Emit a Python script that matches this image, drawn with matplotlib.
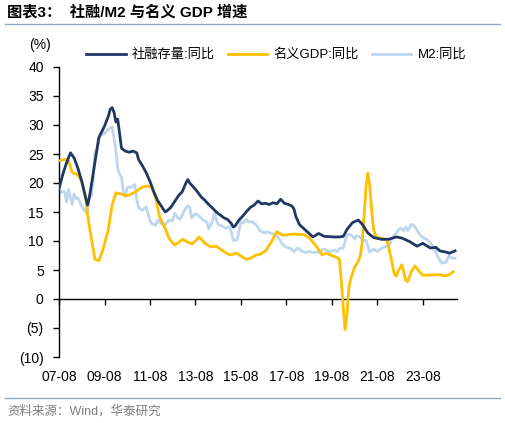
import pandas as pd
import matplotlib.pyplot as plt
import matplotlib.dates as mdates
from matplotlib.lines import Line2D

plt.rcParams['font.family'] = ['Liberation Sans', 'Noto Sans CJK SC', 'DejaVu Sans']
plt.rcParams['axes.unicode_minus'] = False

# --- data ---
tsf_dates = ['2007-08', '2007-10', '2007-12', '2008-02', '2008-04', '2008-06', '2008-08', '2008-10',
             '2008-11', '2008-12', '2009-02', '2009-05', '2009-08', '2009-10', '2009-11', '2009-12',
             '2010-01', '2010-02', '2010-03', '2010-04', '2010-05', '2010-07', '2010-09', '2010-11',
             '2011-01', '2011-02', '2011-04', '2011-06', '2011-08', '2011-10', '2011-12', '2012-02',
             '2012-04', '2012-05', '2012-07', '2012-09', '2012-11', '2013-01', '2013-03', '2013-04',
             '2013-05', '2013-07', '2013-09', '2013-11', '2014-01', '2014-03', '2014-05', '2014-07',
             '2014-09', '2014-11', '2015-01', '2015-03', '2015-04', '2015-05', '2015-07', '2015-09',
             '2015-11', '2016-01', '2016-03', '2016-05', '2016-07', '2016-09', '2016-11', '2017-01',
             '2017-03', '2017-05', '2017-07', '2017-09', '2017-11', '2017-12', '2018-01', '2018-03',
             '2018-06', '2018-10', '2019-01', '2019-04', '2019-09', '2019-12', '2020-02', '2020-04',
             '2020-07', '2020-10', '2020-12', '2021-03', '2021-06', '2021-10', '2022-02', '2022-06',
             '2022-09', '2023-01', '2023-04', '2023-05', '2023-08', '2023-12', '2024-03', '2024-05',
             '2024-08', '2024-10', '2025-01']
tsf_yoy = [19.0, 21.5, 23.5, 25.2, 24.3, 22.5, 20.3, 17.5,
           16.2, 17.5, 21.7, 27.8, 29.8, 31.5, 32.7, 33.0,
           32.2, 30.5, 31.0, 28.5, 26.0, 25.5, 25.3, 25.5,
           25.2, 24.0, 23.0, 21.8, 20.3, 18.5, 17.0, 16.0,
           15.0, 15.2, 15.8, 16.8, 17.8, 18.5, 20.0, 20.6,
           20.0, 19.3, 18.5, 17.6, 17.0, 16.3, 15.7, 15.0,
           14.5, 14.0, 13.7, 13.0, 12.4, 12.6, 13.6, 14.3,
           15.1, 15.8, 16.2, 16.9, 16.4, 16.5, 16.3, 16.6,
           16.4, 17.2, 16.5, 16.3, 16.0, 15.5, 14.2, 12.8,
           11.9, 10.7, 11.3, 10.8, 10.7, 10.7, 10.8, 12.0,
           13.2, 13.6, 12.9, 11.4, 10.6, 10.3, 10.3, 10.7,
           10.5, 9.9, 9.3, 9.1, 9.6, 8.8, 8.9, 8.3,
           8.1, 7.9, 8.3]

gdp_dates = ['2007-08', '2007-11', '2008-01', '2008-03', '2008-06', '2008-08', '2008-10', '2008-11',
             '2009-01', '2009-03', '2009-05', '2009-07', '2009-10', '2009-12', '2010-02', '2010-05',
             '2010-08', '2010-12', '2011-04', '2011-07', '2011-09', '2011-11', '2012-01', '2012-04',
             '2012-06', '2012-09', '2012-11', '2013-01', '2013-04', '2013-06', '2013-08', '2013-10',
             '2014-01', '2014-04', '2014-07', '2014-10', '2015-02', '2015-06', '2015-08', '2015-11',
             '2016-02', '2016-04', '2016-06', '2016-09', '2016-12', '2017-03', '2017-06', '2017-12',
             '2018-05', '2018-08', '2018-10', '2018-12', '2019-03', '2019-05', '2019-08', '2019-11',
             '2019-12', '2020-01', '2020-02', '2020-03', '2020-04', '2020-05', '2020-06', '2020-07',
             '2020-08', '2020-09', '2020-10', '2020-11', '2020-12', '2021-01', '2021-02', '2021-03',
             '2021-04', '2021-05', '2021-06', '2021-07', '2021-08', '2021-11', '2022-01', '2022-03',
             '2022-05', '2022-06', '2022-07', '2022-09', '2022-10', '2022-11', '2022-12', '2023-02',
             '2023-04', '2023-06', '2023-08', '2023-11', '2024-04', '2024-08', '2024-10', '2024-12']
gdp_yoy = [23.8, 24.1, 23.8, 21.8, 21.4, 20.2, 17.6, 14.5,
           10.5, 6.8, 6.6, 8.3, 12.0, 16.2, 18.3, 18.1,
           17.8, 18.4, 19.3, 19.5, 19.2, 17.5, 14.2, 12.2,
           10.5, 9.3, 9.7, 10.3, 9.8, 9.5, 10.0, 10.7,
           9.6, 9.0, 9.1, 8.4, 7.6, 7.9, 7.4, 6.8,
           7.2, 7.6, 7.7, 8.3, 9.8, 11.6, 11.0, 11.2,
           11.1, 10.6, 9.8, 9.0, 7.6, 7.9, 7.5, 7.1,
           6.8, 3.0, -1.5, -5.3, -2.5, 2.0, 3.5, 4.5,
           5.5, 6.0, 6.6, 7.5, 9.7, 14.5, 19.5, 21.7,
           19.5, 15.5, 12.0, 11.0, 10.6, 10.4, 10.2, 7.5,
           4.3, 3.9, 4.8, 5.9, 4.5, 3.2, 3.0, 4.8,
           5.7, 4.8, 4.1, 4.1, 4.2, 4.0, 4.2, 4.7]

m2_dates = ['2007-08', '2007-09', '2007-11', '2007-12', '2008-01', '2008-02', '2008-03', '2008-04',
            '2008-05', '2008-06', '2008-08', '2008-10', '2008-11', '2008-12', '2009-01', '2009-02',
            '2009-03', '2009-04', '2009-06', '2009-07', '2009-08', '2009-10', '2009-12', '2010-01',
            '2010-02', '2010-03', '2010-04', '2010-05', '2010-06', '2010-07', '2010-08', '2010-10',
            '2010-12', '2011-01', '2011-02', '2011-04', '2011-06', '2011-08', '2011-09', '2011-11',
            '2011-12', '2012-02', '2012-04', '2012-06', '2012-08', '2012-09', '2012-11', '2012-12',
            '2013-02', '2013-04', '2013-05', '2013-06', '2013-08', '2013-10', '2013-12', '2014-02',
            '2014-03', '2014-05', '2014-06', '2014-08', '2014-10', '2014-12', '2015-02', '2015-03',
            '2015-04', '2015-06', '2015-08', '2015-09', '2015-11', '2015-12', '2016-02', '2016-04',
            '2016-06', '2016-08', '2016-10', '2016-12', '2017-02', '2017-04', '2017-06', '2017-08',
            '2017-10', '2017-12', '2018-02', '2018-04', '2018-06', '2018-08', '2018-10', '2018-12',
            '2019-02', '2019-03', '2019-05', '2019-07', '2019-09', '2019-11', '2019-12', '2020-02',
            '2020-04', '2020-06', '2020-08', '2020-09', '2020-11', '2020-12', '2021-02', '2021-04',
            '2021-06', '2021-08', '2021-10', '2021-12', '2022-02', '2022-04', '2022-06', '2022-08',
            '2022-10', '2022-11', '2022-12', '2023-02', '2023-04', '2023-06', '2023-08', '2023-10',
            '2023-12', '2024-02', '2024-04', '2024-06', '2024-08', '2024-10', '2024-11', '2025-01']
m2_yoy = [18.1, 18.5, 18.5, 16.7, 18.9, 17.5, 16.3, 18.1,
          17.3, 17.4, 16.0, 15.0, 14.8, 17.8, 17.8, 20.5,
          25.5, 25.7, 28.5, 28.4, 28.5, 29.3, 29.7, 27.7,
          25.5, 22.5, 21.5, 21.0, 18.5, 17.6, 19.2, 19.3,
          19.7, 17.2, 15.7, 15.3, 15.9, 13.5, 13.0, 12.7,
          13.6, 13.0, 12.8, 13.6, 13.5, 14.8, 13.9, 13.8,
          15.2, 16.1, 15.8, 14.0, 14.7, 14.3, 13.6, 13.3,
          12.1, 13.4, 14.7, 12.8, 12.6, 12.2, 12.5, 11.6,
          10.1, 10.2, 13.3, 13.1, 13.7, 13.3, 13.3, 12.8,
          11.8, 11.4, 11.6, 11.3, 11.1, 10.5, 9.4, 8.9,
          8.8, 8.2, 8.8, 8.3, 8.0, 8.2, 8.0, 8.1,
          8.0, 8.6, 8.5, 8.1, 8.4, 8.2, 8.7, 8.8,
          11.1, 11.1, 10.4, 10.9, 10.7, 10.1, 10.1, 8.1,
          8.6, 8.2, 8.7, 9.0, 9.2, 10.5, 11.4, 12.2,
          11.8, 12.4, 11.8, 12.9, 12.4, 11.3, 10.6, 10.3,
          9.7, 8.7, 7.2, 6.2, 6.3, 7.5, 7.1, 7.0]

series_names = ['社融存量:同比', '名义GDP:同比', 'M2:同比']
series_colors = ['#203864', '#FFC000', '#BDD7EE']
x_tick_dates = ['2007-08', '2009-08', '2011-08', '2013-08', '2015-08',
                '2017-08', '2019-08', '2021-08', '2023-08']
y_ticks = [40, 35, 30, 25, 20, 15, 10, 5, 0, -5, -10]

W, H = 506, 423
fig = plt.figure(figsize=(W / 100, H / 100), dpi=100)
ax = fig.add_axes([59 / W, 1 - 357 / H, (457 - 59) / W, (357 - 67) / H])

ax.plot(pd.to_datetime(m2_dates), m2_yoy, color=series_colors[2], lw=2.0, label=series_names[2], zorder=2)
ax.plot(pd.to_datetime(gdp_dates), gdp_yoy, color=series_colors[1], lw=2.0, label=series_names[1], zorder=3)
ax.plot(pd.to_datetime(tsf_dates), tsf_yoy, color=series_colors[0], lw=2.0, label=series_names[0], zorder=4)

ax.set_xlim(pd.Timestamp('2007-08-01'), pd.Timestamp('2025-02-01'))
ax.set_ylim(-10, 40)
ax.set_xticks(pd.to_datetime(x_tick_dates))
ax.xaxis.set_major_formatter(mdates.DateFormatter('%y-%m'))
ax.set_yticks(y_ticks)
ax.set_yticklabels([f'({-v})' if v < 0 else str(v) for v in y_ticks])

for s in ['top', 'right']:
    ax.spines[s].set_visible(False)
ax.spines['bottom'].set_position(('data', 0))
ax.spines['left'].set_linewidth(1.0)
ax.spines['bottom'].set_linewidth(1.0)
ax.tick_params(axis='x', direction='out', length=4, width=1, pad=47, labelsize=10)
ax.tick_params(axis='y', direction='out', length=4, width=1, pad=7, labelsize=10)

# legend order as in the original
handles, labels = ax.get_legend_handles_labels()
order = [2, 1, 0]
fig.legend([handles[i] for i in order], [labels[i] for i in order],
           loc='center', bbox_to_anchor=(276 / W, 1 - 55 / H), ncol=3, frameon=False,
           fontsize=9.5, handlelength=3.0, handletextpad=0.45, columnspacing=1.0)

fig.text(40 / W, 1 - 45 / H, '(%)', ha='center', va='center', fontsize=10)
fig.text(7 / W, 1 - 12 / H, '图表3：  社融/M2 与名义 GDP 增速', fontsize=11,
         fontweight='bold', va='center', ha='left')
fig.add_artist(Line2D([5 / W, 500 / W], [1 - 24 / H] * 2, color='#8DA9C4', lw=1))
fig.add_artist(Line2D([5 / W, 500 / W], [1 - 398 / H] * 2, color='#8DA9C4', lw=1))
fig.text(7 / W, 1 - 411 / H, '资料来源：Wind，华泰研究', fontsize=9, color='#7F7F7F',
         va='center', ha='left')

fig.savefig('out.png', dpi=100)
